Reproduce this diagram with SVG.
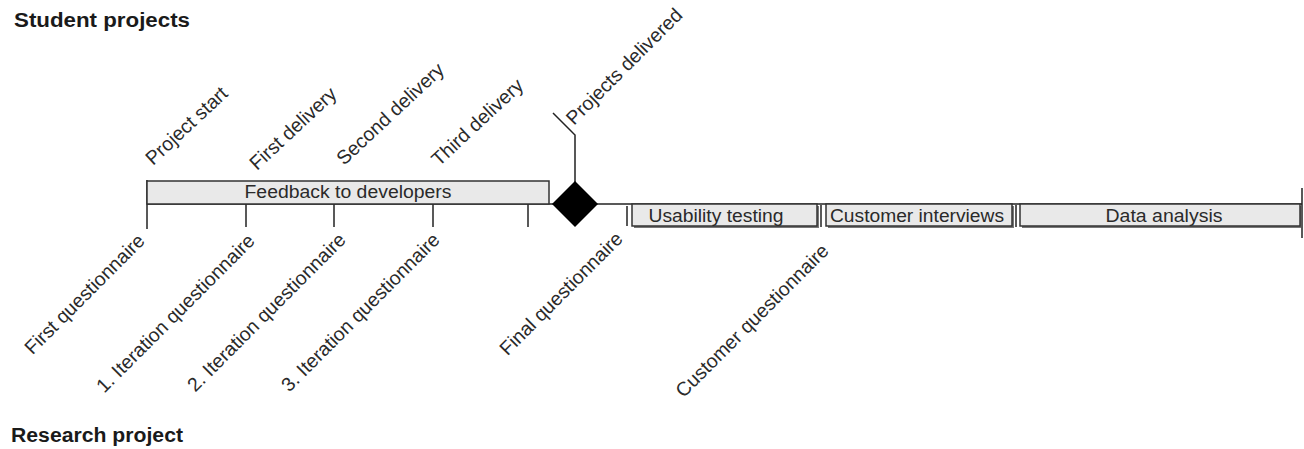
<svg xmlns="http://www.w3.org/2000/svg" width="1304" height="449" viewBox="0 0 1304 449">
<style>
.title{font-family:"Liberation Sans",Arial,sans-serif;font-weight:bold;font-size:20px;fill:#1a1a1a}
.lbl{font-family:"Liberation Sans",Arial,sans-serif;font-size:19.5px;fill:#2a2a2a}
.box{fill:#e9e9e9;stroke:#333;stroke-width:1.5}
.shadow{fill:#777}
.btxt{font-family:"Liberation Sans",Arial,sans-serif;font-size:17.5px;fill:#2a2a2a;text-anchor:middle}
.ln{stroke:#222;stroke-width:1.5;fill:none}
</style>
<rect width="1304" height="449" fill="#fff"/>
<text class="title" x="14" y="27" textLength="176" lengthAdjust="spacingAndGlyphs">Student projects</text>
<text class="title" x="11" y="442" textLength="172" lengthAdjust="spacingAndGlyphs">Research project</text>

<g id="connectors">
  <line class="ln" x1="147" y1="204" x2="1302" y2="204" stroke-width="2.2"/>
  <line class="ln" x1="147" y1="180" x2="147" y2="229" stroke-width="2.5"/>
  <line class="ln" x1="246" y1="204" x2="246" y2="227"/>
  <line class="ln" x1="334" y1="204" x2="334" y2="227"/>
  <line class="ln" x1="433" y1="204" x2="433" y2="227"/>
  <line class="ln" x1="528" y1="204" x2="528" y2="227"/>
  <line class="ln" x1="1302" y1="188" x2="1302" y2="238" stroke-width="2.5"/>
  <polyline class="ln" points="575,182 575,135 553,113"/>
  <line class="ln" x1="627" y1="206" x2="627" y2="226" stroke="#555"/>
  <line class="ln" x1="821" y1="205" x2="821" y2="227" stroke-width="2.2"/>
  <line class="ln" x1="1016" y1="205" x2="1016" y2="227" stroke-width="2"/>
</g>

<g id="feedback">
  <rect class="box" x="147" y="181" width="402" height="23"/>
  <text class="btxt" x="348" y="198" textLength="207" lengthAdjust="spacingAndGlyphs">Feedback to developers</text>
</g>

<g id="milestone-delivered">
  <polygon points="575,181 598,204 575,227 552,204" fill="#000"/>
</g>

<g id="usability">
  <rect class="shadow" x="634" y="206" width="185" height="22"/>
  <rect class="box" x="632" y="204" width="185" height="22"/>
  <text class="btxt" x="716" y="221.5" textLength="135" lengthAdjust="spacingAndGlyphs">Usability testing</text>
</g>
<g id="interviews">
  <rect class="shadow" x="828" y="206" width="186" height="22"/>
  <rect class="box" x="826" y="204" width="186" height="22"/>
  <text class="btxt" x="917" y="221.5" textLength="174" lengthAdjust="spacingAndGlyphs">Customer interviews</text>
</g>
<g id="analysis">
  <rect class="shadow" x="1022" y="206" width="279" height="22"/>
  <rect class="box" x="1020" y="204" width="280" height="22"/>
  <text class="btxt" x="1164" y="221.5" textLength="117" lengthAdjust="spacingAndGlyphs">Data analysis</text>
</g>

<g id="upper-labels">
  <text class="lbl" transform="translate(153,166) rotate(-43)">Project start</text>
  <text class="lbl" transform="translate(257,171) rotate(-43)">First delivery</text>
  <text class="lbl" transform="translate(344,166) rotate(-43)">Second delivery</text>
  <text class="lbl" transform="translate(439,167) rotate(-43)">Third delivery</text>
  <text class="lbl" transform="translate(574,126) rotate(-45)">Projects delivered</text>
</g>

<g id="lower-labels" text-anchor="end">
  <text class="lbl" transform="translate(146,242) rotate(-45)">First questionnaire</text>
  <text class="lbl" transform="translate(256,242) rotate(-45)">1. Iteration questionnaire</text>
  <text class="lbl" transform="translate(347,241) rotate(-45)">2. Iteration questionnaire</text>
  <text class="lbl" transform="translate(441,241) rotate(-45)">3. Iteration questionnaire</text>
  <text class="lbl" transform="translate(624,240) rotate(-45)">Final questionnaire</text>
  <text class="lbl" transform="translate(830,252) rotate(-45)">Customer questionnaire</text>
</g>
</svg>
